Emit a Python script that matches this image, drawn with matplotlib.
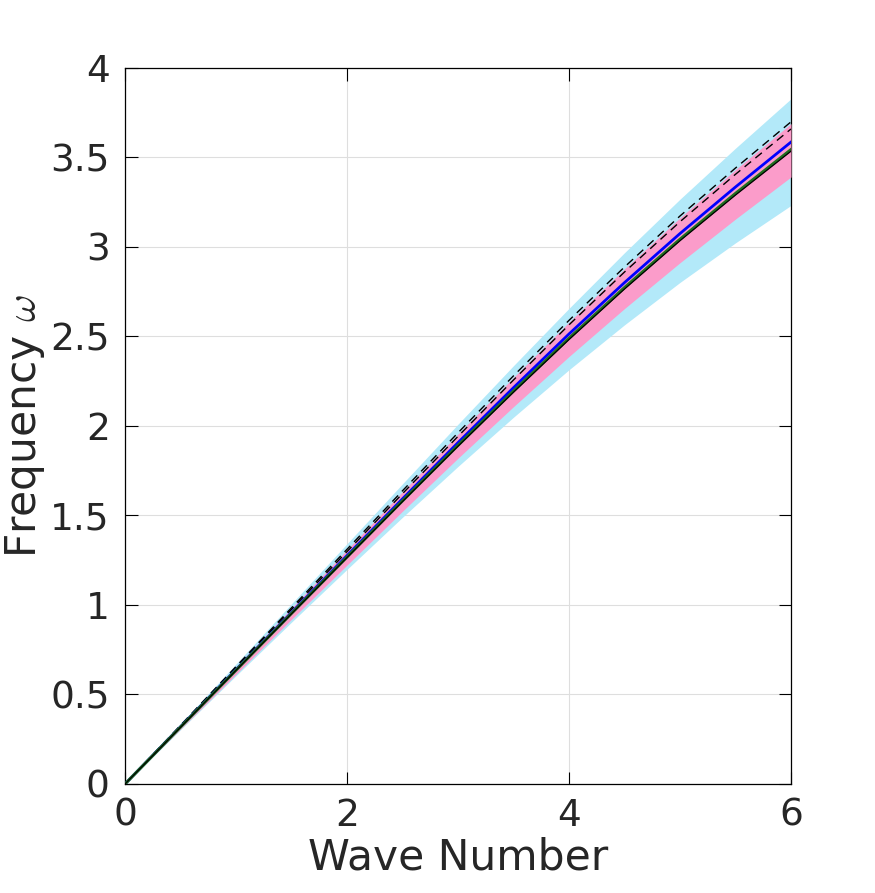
import numpy as np
import matplotlib
matplotlib.use('Agg')
import matplotlib.pyplot as plt

plt.rcParams['mathtext.fontset'] = 'cm'

# wave numbers and curves
k = [0, 0.5, 1, 1.5, 2, 2.5, 3, 3.5, 4, 4.5, 5, 5.5, 6]

green_line = [0, 0.318, 0.636, 0.953, 1.268, 1.582, 1.892, 2.195, 2.490, 2.773, 3.043, 3.299, 3.544]
black_line = [0, 0.317, 0.635, 0.951, 1.265, 1.578, 1.887, 2.189, 2.483, 2.765, 3.035, 3.290, 3.535]
blue_line = [0, 0.320, 0.639, 0.958, 1.276, 1.593, 1.907, 2.214, 2.514, 2.801, 3.075, 3.335, 3.586]
dash_upper = [0, 0.328, 0.656, 0.984, 1.311, 1.638, 1.962, 2.280, 2.590, 2.888, 3.173, 3.441, 3.699]
dash_lower = [0, 0.325, 0.651, 0.975, 1.298, 1.622, 1.942, 2.257, 2.565, 2.860, 3.141, 3.406, 3.659]

pink_top = [0, 0.327, 0.655, 0.982, 1.308, 1.633, 1.955, 2.271, 2.580, 2.878, 3.163, 3.432, 3.689]
pink_bottom = [0, 0.307, 0.614, 0.920, 1.223, 1.524, 1.820, 2.108, 2.388, 2.656, 2.912, 3.156, 3.391]
cyan_top = [0, 0.335, 0.671, 1.007, 1.342, 1.677, 2.010, 2.337, 2.657, 2.968, 3.267, 3.552, 3.828]
cyan_bottom = [0, 0.303, 0.605, 0.904, 1.199, 1.490, 1.774, 2.049, 2.314, 2.565, 2.802, 3.023, 3.232]

x_ticks = [0, 2, 4, 6]
y_ticks = [0, 0.5, 1, 1.5, 2, 2.5, 3, 3.5, 4]
y_tick_labels = ['0', '0.5', '1', '1.5', '2', '2.5', '3', '3.5', '4']

fig = plt.figure(figsize=(8.75, 8.93), dpi=100)
ax = fig.add_axes([0.1429, 0.1221, 0.7611, 0.8018])

ax.fill_between(k, cyan_bottom, cyan_top, color='#b3e9f9', linewidth=0, zorder=2)
ax.fill_between(k, pink_bottom, pink_top, color='#fb9cca', linewidth=0, zorder=3)

ax.plot(k, dash_upper, color='black', linestyle='--', linewidth=1.0, dashes=(6, 4), zorder=5)
ax.plot(k, dash_lower, color='black', linestyle='--', linewidth=1.0, dashes=(6, 4), zorder=5)
ax.plot(k, blue_line, color='#0000ff', linewidth=2.0, zorder=6)
ax.plot(k, green_line, color='#1f6f1f', linewidth=2.2, zorder=6)
ax.plot(k, black_line, color='black', linewidth=0.9, zorder=7)

ax.set_xlim(0, 6)
ax.set_ylim(0, 4)
ax.set_xticks(x_ticks)
ax.set_yticks(y_ticks)
ax.set_yticklabels(y_tick_labels)
ax.grid(True, color='#dedede', linewidth=0.8, zorder=0)
ax.set_axisbelow(True)

ax.tick_params(direction='in', length=9, width=0.8, top=True, right=True,
               labelsize=27, labelcolor='#262626')
ax.tick_params(axis='y', pad=11)
ax.tick_params(axis='x', pad=10)
for s in ax.spines.values():
    s.set_linewidth(0.9)
    s.set_color('black')

ax.set_xlabel('Wave Number', fontsize=30.5, color='#262626', labelpad=2)
ax.set_ylabel(r'Frequency $\omega$', fontsize=30.5, color='#262626', labelpad=2)

fig.savefig('out.png', dpi=100)
plt.close(fig)
